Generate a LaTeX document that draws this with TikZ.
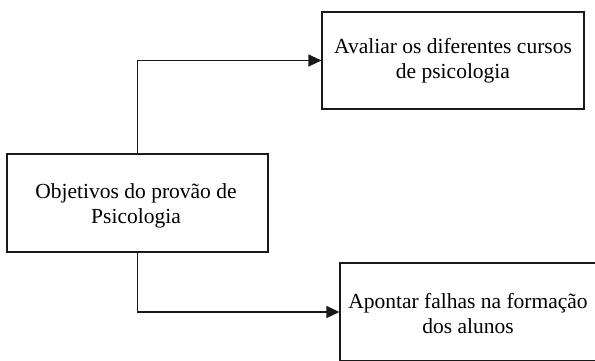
\documentclass[tikz,border=0pt]{standalone}
\usepackage{fontspec}
\setmainfont{Liberation Serif}
\usetikzlibrary{arrows.meta}
\begin{document}
\begin{tikzpicture}[x=1pt,y=-1pt,
  box/.style={draw=black!90, line width=1.1pt, rectangle, inner sep=0pt},
  txt/.style={align=center, font=\fontsize{21.5}{25}\selectfont, inner sep=0pt},
  conn/.style={draw=black!90, line width=1.1pt, -{Triangle[length=13pt,width=12pt]}}]
\useasboundingbox (0,0) rectangle (595,360);
\clip (0,0) rectangle (595,360);
\node[box, minimum width=261pt, minimum height=98pt] (a) at (137.5,203) {};
\node[txt] (at) at (136,206) {Objetivos do provão de\\Psicologia};
\node[box, txt, minimum width=262pt, minimum height=97pt] (b) at (453,60.5) {Avaliar os diferentes cursos\\de psicologia};
\node[box, minimum width=260pt, minimum height=98pt] (c) at (470,312) {};
\node[txt] (ct) at (468,314) {Apontar falhas na formação\\dos alunos};
\draw[conn] (a.north) |- (b.west);
\draw[conn] (a.south) |- (c.west);
\end{tikzpicture}
\end{document}
